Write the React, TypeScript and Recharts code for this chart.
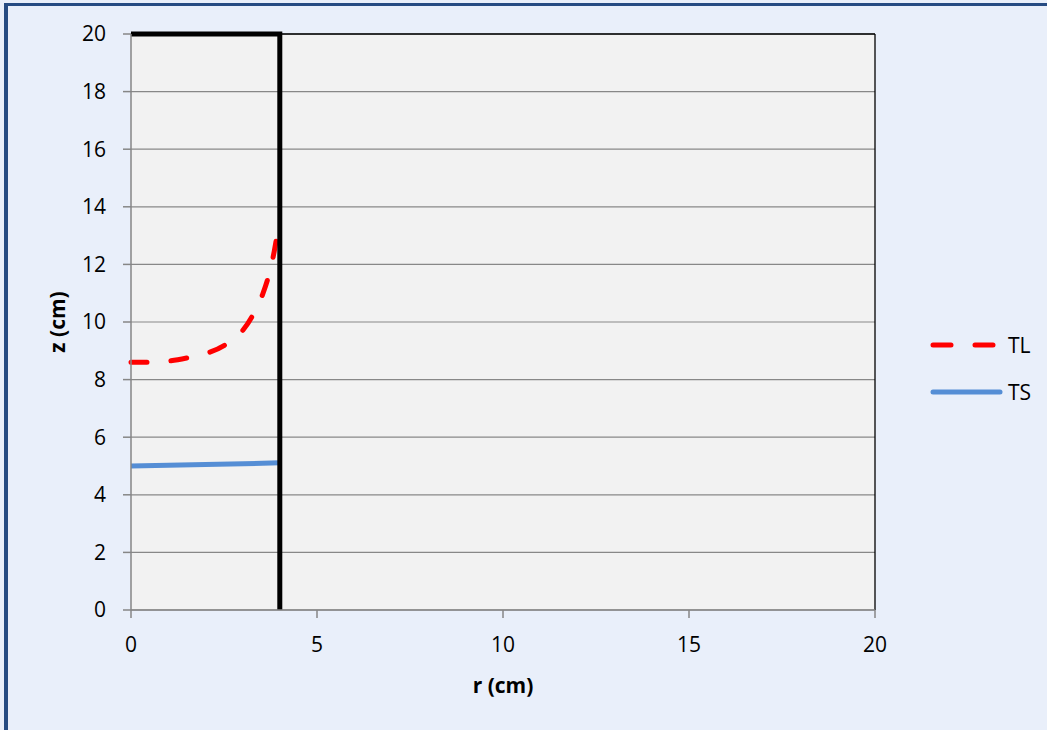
import React from "react";
import {
  LineChart,
  Line,
  XAxis,
  YAxis,
  CartesianGrid,
  ReferenceLine,
  Label,
} from "recharts";

// profile values (r in cm, z in cm)
const tlSeries = [
  { r: 0, z: 8.6 },
  { r: 0.5, z: 8.6 },
  { r: 1, z: 8.64 },
  { r: 1.5, z: 8.75 },
  { r: 2, z: 8.9 },
  { r: 2.5, z: 9.18 },
  { r: 3, z: 9.7 },
  { r: 3.3, z: 10.3 },
  { r: 3.55, z: 11.0 },
  { r: 3.72, z: 11.7 },
  { r: 3.85, z: 12.45 },
  { r: 3.95, z: 13.2 },
];

const tsSeries = [
  { r: 0, z: 5.0 },
  { r: 2, z: 5.05 },
  { r: 4, z: 5.11 },
];

// crucible wall outline
const wallSeries = [
  { r: 0, z: 20 },
  { r: 4, z: 20 },
  { r: 4, z: 0 },
];

const xTicks = [0, 5, 10, 15, 20];
const yTicks = [0, 2, 4, 6, 8, 10, 12, 14, 16, 18, 20];

const legendItems = [
  { name: "TL", color: "#FF0000", dash: "18 24" },
  { name: "TS", color: "#558ED5", dash: undefined },
];

const FONT = "'Open Sans', sans-serif";
const tickStyle = { fill: "#000", fontSize: 21, fontFamily: FONT };

export default function App() {
  return (
    <div
      style={{
        position: "absolute",
        left: 0,
        top: 0,
        width: 1047,
        height: 730,
        background: "#E9EFFA",
        overflow: "hidden",
      }}
    >
      <div
        style={{
          position: "absolute",
          left: 4,
          top: 3,
          width: 1200,
          height: 900,
          borderLeft: "4px solid #264B82",
          borderTop: "3px solid #264B82",
        }}
      />
      <LineChart
        width={1047}
        height={730}
        margin={{ top: 34, right: 172, bottom: 0, left: 0 }}
        style={{ position: "absolute", left: 0, top: 0 }}
      >
        <CartesianGrid
          vertical={false}
          stroke="#888888"
          strokeWidth={1.2}
          fill="#F2F2F2"
        />
        <XAxis
          dataKey="r"
          type="number"
          domain={[0, 20]}
          ticks={xTicks}
          height={120}
          tickSize={8}
          tickMargin={19}
          stroke="#868686"
          strokeWidth={1.5}
          tick={tickStyle}
        >
          <Label
            content={() => (
              <text
                x={503}
                y={693}
                textAnchor="middle"
                fontFamily={FONT}
                fontWeight="bold"
                fontSize={21}
                fill="#000"
              >
                r (cm)
              </text>
            )}
          />
        </XAxis>
        <YAxis
          type="number"
          domain={[0, 20]}
          ticks={yTicks}
          width={131}
          tickSize={8}
          tickMargin={17}
          stroke="#868686"
          strokeWidth={1.5}
          tick={tickStyle}
        >
          <Label
            content={() => (
              <text
                x={65}
                y={322}
                transform="rotate(-90 65 322)"
                textAnchor="middle"
                fontFamily={FONT}
                fontWeight="bold"
                fontSize={21}
                fill="#000"
              >
                z (cm)
              </text>
            )}
          />
        </YAxis>
        <ReferenceLine y={20} stroke="#000" strokeWidth={1.3} />
        <ReferenceLine x={20} stroke="#000" strokeWidth={1.3} />
        <Line
          data={tsSeries}
          dataKey="z"
          type="linear"
          stroke="#558ED5"
          strokeWidth={5}
          dot={false}
          isAnimationActive={false}
        />
        <Line
          data={tlSeries}
          dataKey="z"
          type="monotone"
          stroke="#FF0000"
          strokeWidth={5}
          strokeDasharray="16 24"
          strokeLinecap="round"
          dot={false}
          isAnimationActive={false}
        />
        <Line
          data={wallSeries}
          dataKey="z"
          type="linear"
          stroke="#000"
          strokeWidth={5}
          dot={false}
          isAnimationActive={false}
        />
      </LineChart>
      <svg
        width={120}
        height={100}
        style={{ position: "absolute", left: 920, top: 320 }}
      >
        {legendItems.map((item, i) => (
          <g key={item.name} transform={`translate(0, ${25 + i * 47})`}>
            <line
              x1={13}
              x2={item.dash ? 74 : 80}
              y1={0}
              y2={0}
              stroke={item.color}
              strokeWidth={5}
              strokeLinecap="round"
              strokeDasharray={item.dash}
            />
            <text
              x={88}
              y={0}
              dy="0.36em"
              fontFamily={FONT}
              fontSize={21}
              fill="#000"
            >
              {item.name}
            </text>
          </g>
        ))}
      </svg>
    </div>
  );
}
